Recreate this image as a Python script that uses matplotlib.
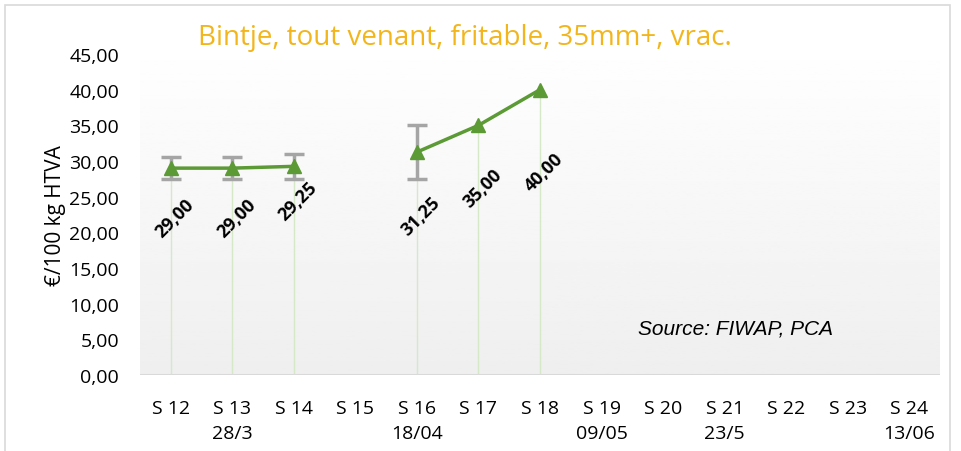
import numpy as np
import matplotlib.pyplot as plt
from matplotlib.patches import Rectangle

# semaines et dates
weeks = ['S 12', 'S 13', 'S 14', 'S 15', 'S 16', 'S 17', 'S 18',
         'S 19', 'S 20', 'S 21', 'S 22', 'S 23', 'S 24']
dates = ['', '28/3', '', '', '18/04', '', '', '09/05', '', '23/5', '', '', '13/06']

# prix moyen, min et max (NaN = pas de cotation)
price = [29.00, 29.00, 29.25, np.nan, 31.25, 35.00, 40.00,
         np.nan, np.nan, np.nan, np.nan, np.nan, np.nan]
price_min = [27.5, 27.5, 27.5, np.nan, 27.5, np.nan, np.nan,
             np.nan, np.nan, np.nan, np.nan, np.nan, np.nan]
price_max = [30.5, 30.5, 31.0, np.nan, 35.0, np.nan, np.nan,
             np.nan, np.nan, np.nan, np.nan, np.nan, np.nan]

# decalage des etiquettes sous les points (en points typo)
label_drop = [36, 36, 25, 0, 46, 45, 59]

narrow = ['Liberation Sans Narrow', 'Open Sans', 'DejaVu Sans']
green = '#5b9a35'

fig = plt.figure(figsize=(9.61, 4.52), dpi=100)
fig.patches.append(Rectangle((5/961, -0.1), (950-5)/961, 1.1 - 6/452,
                             transform=fig.transFigure, fill=False,
                             edgecolor='#d9d9d9', lw=1.2))
ax = fig.add_axes([140/961, 1 - 376/452, 800/961, 321/452])

x = np.arange(len(weeks))
y = np.array(price, dtype=float)
lo = np.array(price_min, dtype=float)
hi = np.array(price_max, dtype=float)

# fond en degrade
grad = np.linspace(1.0, 0.935, 256).reshape(-1, 1)
ax.imshow(grad, cmap='gray', vmin=0, vmax=1, aspect='auto',
          extent=[-0.5, len(weeks) - 0.5, 0, 47], zorder=0, origin='upper')

# lignes de projection
for xi, yi in zip(x, y):
    if not np.isnan(yi):
        ax.plot([xi, xi], [0, yi], color='#d5e8c8', lw=1, zorder=1)

ax.axhline(0, color='#d9d9d9', lw=1.5, zorder=2)

ok = ~np.isnan(hi)
ax.errorbar(x[ok], y[ok], yerr=[y[ok] - lo[ok], hi[ok] - y[ok]], fmt='none',
            ecolor='#a5a5a5', elinewidth=2.5, capsize=7, capthick=2.5, zorder=3)
ax.plot(x, y, color=green, lw=2.5, marker='^', ms=10, zorder=4)

for i, (xi, yi) in enumerate(zip(x, y)):
    if np.isnan(yi):
        continue
    ax.annotate(f'{yi:.2f}'.replace('.', ','), (xi, yi),
                xytext=(3, -label_drop[i]), textcoords='offset points',
                rotation=45, ha='center', va='center', fontsize=13,
                fontweight='bold', family=['Open Sans', 'DejaVu Sans'], zorder=5)

ax.set_xlim(-0.5, len(weeks) - 0.5)
ax.set_ylim(0, 45)
ax.set_yticks(np.arange(0, 46, 5))
ax.set_yticklabels([f'{v:.2f}'.replace('.', ',') for v in np.arange(0, 46, 5)],
                   family=narrow, fontsize=14)
ax.set_xticks(x)
ax.set_xticklabels([w + '\n' + d for w, d in zip(weeks, dates)],
                   family=narrow, fontsize=14, linespacing=1.5)
ax.tick_params(length=0)
ax.tick_params(axis='x', pad=17)
ax.tick_params(axis='y', pad=15)
for s in ax.spines.values():
    s.set_visible(False)

ax.set_ylabel('€/100 kg HTVA', family=narrow, fontsize=15, labelpad=2)
fig.text(465/961, 1 - 38/452, 'Bintje, tout venant, fritable, 35mm+, vrac.',
         ha='center', va='center', color='#f2b51c', fontsize=20,
         family=['Open Sans', 'DejaVu Sans'])
ax.text(0.744, 0.146, 'Source: FIWAP, PCA', transform=ax.transAxes,
        ha='center', va='center', style='italic', fontsize=15,
        family=['Liberation Sans', 'DejaVu Sans'])

fig.savefig('out.png', dpi=100)
